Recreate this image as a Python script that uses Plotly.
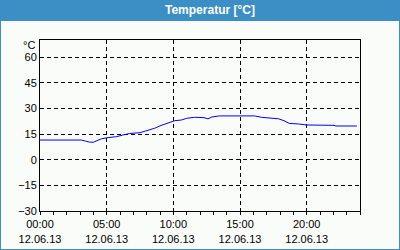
import plotly.graph_objects as go

# Data (time of day on 12.06.2013, temperature in °C)
times = ["2013-06-12 00:00", "2013-06-12 03:06", "2013-06-12 03:24", "2013-06-12 03:42",
         "2013-06-12 04:00", "2013-06-12 04:18", "2013-06-12 04:36", "2013-06-12 05:00",
         "2013-06-12 05:24", "2013-06-12 05:45", "2013-06-12 06:12", "2013-06-12 06:42",
         "2013-06-12 07:30", "2013-06-12 07:51", "2013-06-12 08:12", "2013-06-12 08:36",
         "2013-06-12 09:00", "2013-06-12 09:21", "2013-06-12 09:42", "2013-06-12 10:06",
         "2013-06-12 10:36", "2013-06-12 11:00", "2013-06-12 11:36", "2013-06-12 12:18",
         "2013-06-12 12:36", "2013-06-12 12:54", "2013-06-12 13:27", "2013-06-12 14:57",
         "2013-06-12 16:06", "2013-06-12 16:36", "2013-06-12 17:18", "2013-06-12 17:54",
         "2013-06-12 18:18", "2013-06-12 18:42", "2013-06-12 19:24", "2013-06-12 20:00",
         "2013-06-12 22:03", "2013-06-12 22:12", "2013-06-12 23:46"]
temps = [11.5, 11.5, 10.9, 10.3,
         10.2, 11.2, 12.2, 12.8,
         13.1, 13.5, 14.4, 15.3,
         15.8, 16.6, 17.2, 18.4,
         19.8, 20.9, 21.6, 22.8,
         23.2, 24.2, 24.8, 24.6,
         23.9, 25.0, 25.6, 25.7,
         25.6, 24.8, 24.5, 23.9,
         22.8, 21.2, 20.9, 20.3,
         20.1, 19.7, 19.7]

y_ticks = [-30, -15, 0, 15, 30, 45, 60]
y_unit = "°C"
title_text = "Temperatur [°C]"

BLUE = "#3b8fc5"
BG = "#fafcfa"
FONT = "Liberation Sans"

fig = go.Figure()
fig.add_trace(go.Scatter(x=times, y=temps, mode="lines",
                         line=dict(color="#0000ff", width=1), hoverinfo="skip"))

W, H = 400, 250
L, R, T, B = 40, 40, 40, 39
pw, ph = W - L - R, H - T - B

def px_x(x):
    return (x - L) / pw

def px_y(y):
    return (H - B - y) / ph

fig.update_layout(
    width=W, height=H,
    margin=dict(l=L, r=R, t=T, b=B, pad=0, autoexpand=False),
    paper_bgcolor=BLUE,
    plot_bgcolor=BG,
    showlegend=False,
    font=dict(family=FONT, size=11, color="#000000"),
    xaxis=dict(
        type="date", automargin=False,
        range=["2013-06-12 00:00", "2013-06-13 00:00"],
        tickmode="linear", tick0="2013-06-12 00:00", dtick=5 * 3600000,
        tickformat="%H:%M<br>%d.%m.%y",
        showgrid=True, gridcolor="#000000", gridwidth=1, griddash="4px,3px",
        showline=True, linecolor="#000000", linewidth=1, mirror=True,
        ticks="outside", ticklen=3, tickcolor="#000000",
        minor=dict(dtick=3600000, tick0="2013-06-12 00:00", ticks="outside",
                   ticklen=3, tickcolor="#000000", showgrid=False),
        zeroline=False, fixedrange=True,
    ),
    yaxis=dict(
        automargin=False,
        range=[-30, 70],
        tickvals=y_ticks,
        showgrid=True, gridcolor="#000000", gridwidth=1, griddash="4px,3px",
        showline=True, linecolor="#000000", linewidth=1, mirror=True,
        ticks="", zeroline=False, fixedrange=True,
    ),
    shapes=[
        # white content area inside the blue frame
        dict(type="rect", xref="paper", yref="paper",
             x0=px_x(1), x1=px_x(399), y0=px_y(249), y1=px_y(21),
             fillcolor=BG, line=dict(width=0), layer="below"),
    ],
    annotations=[
        dict(text=f"<b>{title_text}</b>", xref="paper", yref="paper",
             x=px_x(210), y=px_y(10.5), xanchor="center", yanchor="middle",
             showarrow=False, font=dict(family=FONT, size=12, color="#ffffff")),
        dict(text=y_unit, xref="paper", yref="y", x=0, y=67,
             xanchor="right", yanchor="middle", xshift=-3, showarrow=False,
             font=dict(family=FONT, size=11, color="#000000")),
    ],
)

fig.write_html("out.html")
